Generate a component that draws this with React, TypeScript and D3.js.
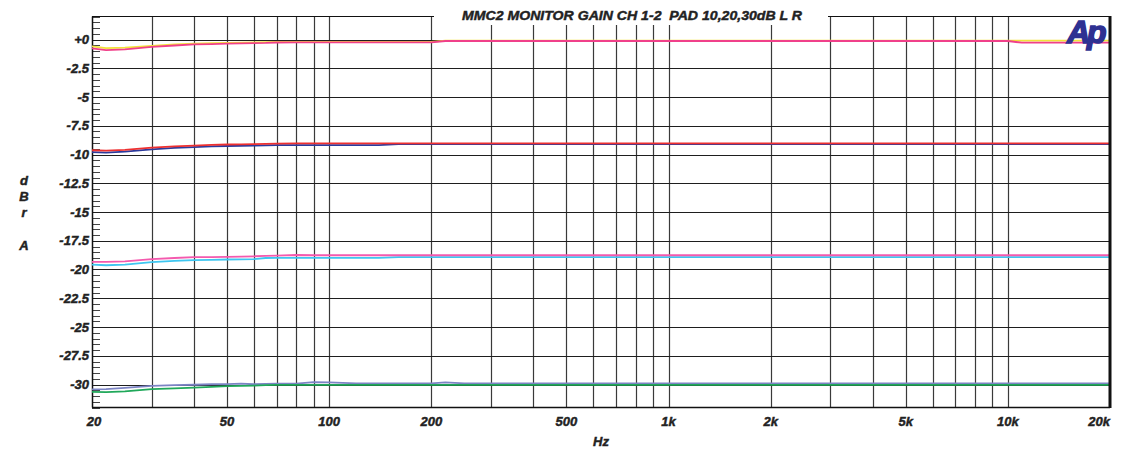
import React from "react";
import * as d3 from "d3";

// ---- Data ----
const FREQ = [20, 22, 25, 30, 35, 40, 45, 50, 55, 60, 65, 70, 80, 90, 100, 120, 140, 160, 180, 200, 220, 250, 300, 500, 1000, 2000, 5000, 10000, 11000, 12000, 15000, 20000];

// PAD 0 dB pair
const P0_L = [-0.6, -0.75, -0.7, -0.55, -0.42, -0.36, -0.32, -0.3, -0.27, -0.25, -0.22, -0.2, -0.2, -0.2, -0.2, -0.2, -0.2, -0.2, -0.2, -0.2, -0.1, -0.1, -0.1, -0.1, -0.1, -0.1, -0.1, -0.1, -0.1, -0.1, -0.1, -0.1];
const P0_R = [-0.78, -0.92, -0.85, -0.65, -0.52, -0.43, -0.4, -0.36, -0.34, -0.32, -0.3, -0.26, -0.25, -0.25, -0.25, -0.25, -0.25, -0.25, -0.25, -0.25, -0.13, -0.13, -0.13, -0.13, -0.13, -0.13, -0.13, -0.13, -0.28, -0.28, -0.28, -0.28];
// PAD 10 dB pair
const P10_L = [-9.63, -9.66, -9.6, -9.4, -9.3, -9.22, -9.17, -9.13, -9.12, -9.1, -9.08, -9.06, -9.04, -9.04, -9.04, -9.04, -9.04, -9.04, -9.04, -9.04, -9.04, -9.04, -9.04, -9.04, -9.04, -9.04, -9.04, -9.04, -9.04, -9.04, -9.04, -9.04];
const P10_R = [-9.8, -9.84, -9.75, -9.55, -9.43, -9.35, -9.3, -9.26, -9.24, -9.22, -9.2, -9.19, -9.19, -9.19, -9.19, -9.19, -9.18, -9.09, -9.09, -9.09, -9.09, -9.09, -9.09, -9.09, -9.09, -9.09, -9.09, -9.09, -9.09, -9.09, -9.09, -9.09];
// PAD 20 dB pair
const P20_L = [-19.34, -19.34, -19.3, -19.1, -19.0, -18.93, -18.92, -18.9, -18.88, -18.85, -18.82, -18.8, -18.74, -18.76, -18.76, -18.76, -18.76, -18.76, -18.76, -18.76, -18.76, -18.76, -18.76, -18.76, -18.76, -18.76, -18.76, -18.76, -18.76, -18.76, -18.76, -18.76];
const P20_R = [-19.57, -19.63, -19.58, -19.35, -19.25, -19.19, -19.16, -19.13, -19.12, -19.1, -19.0, -18.99, -18.99, -18.99, -18.99, -18.99, -18.99, -18.92, -18.92, -18.92, -18.92, -18.92, -18.92, -18.92, -18.92, -18.92, -18.92, -18.92, -18.92, -18.92, -18.92, -18.92];
// PAD 30 dB pair
const P30_L = [-30.43, -30.4, -30.3, -30.12, -30.06, -30.02, -29.98, -29.97, -29.93, -29.98, -29.95, -29.93, -29.92, -29.8, -29.82, -29.9, -29.9, -29.9, -29.9, -29.9, -29.82, -29.9, -29.9, -29.9, -29.9, -29.9, -29.9, -29.9, -29.9, -29.9, -29.9, -29.9];
const P30_R = [-30.64, -30.67, -30.6, -30.41, -30.33, -30.27, -30.2, -30.15, -30.12, -30.09, -30.06, -30.04, -30.03, -30.03, -30.03, -30.03, -30.03, -30.03, -30.03, -30.03, -30.03, -30.03, -30.03, -30.03, -30.03, -30.03, -30.03, -30.03, -30.03, -30.03, -30.03, -30.03];

const Y_TICKS = [0, -2.5, -5, -7.5, -10, -12.5, -15, -17.5, -20, -22.5, -25, -27.5, -30];
const Y_TICK_LABELS = ["+0", "-2.5", "-5", "-7.5", "-10", "-12.5", "-15", "-17.5", "-20", "-22.5", "-25", "-27.5", "-30"];
const X_LABEL_TICKS = [20, 50, 100, 200, 500, 1000, 2000, 5000, 10000, 20000];
const X_LABELS = ["20", "50", "100", "200", "500", "1k", "2k", "5k", "10k", "20k"];
const X_GRID = [30, 40, 50, 60, 70, 80, 90, 100, 200, 300, 400, 500, 600, 700, 800, 900, 1000, 2000, 3000, 4000, 5000, 6000, 7000, 8000, 9000, 10000];

const TITLE = "MMC2 MONITOR GAIN CH 1-2  PAD 10,20,30dB L R";
const Y_LABEL_LETTERS = ["d", "B", "r", "A"];

const SERIES = [
  { values: P0_L, color: "#f2e33a" },
  { values: P0_R, color: "#f0408a" },
  { values: P10_R, color: "#2b3a9c" },
  { values: P10_L, color: "#ee3030" },
  { values: P20_R, color: "#3ec6f0" },
  { values: P20_L, color: "#f45aae" },
  { values: P30_L, color: "#7c84c4" },
  { values: P30_R, color: "#20a85a" },
];

const W = 1135;
const H = 451;
const LEFT = 92;
const RIGHT = 1110;
const TOP = 16.5;
const BOTTOM = 407.5;
const FONT = "'Liberation Sans', Arial, Helvetica, sans-serif";

export default function App() {
  const x = d3.scaleLog().domain([20, 20000]).range([LEFT, RIGHT]);
  const y = d3.scaleLinear().domain([-32, 2]).range([BOTTOM, TOP]);
  const line = d3
    .line<number>()
    .x((_, i) => x(FREQ[i]))
    .y((v) => y(v));

  const minor = d3.range(-32, 2.001, 0.5).filter((v) => Math.abs((v / 2.5) - Math.round(v / 2.5)) > 1e-6);

  const textStyle = {
    fontFamily: FONT,
    fontWeight: 700,
    fontStyle: "italic" as const,
    fill: "#222",
    stroke: "#222",
    strokeWidth: 0.45,
  };

  return (
    <svg width={W} height={H} style={{ position: "absolute", left: 0, top: 0, background: "#fff" }}>
      <rect x={0} y={0} width={W} height={H} fill="#fff" />
      {/* vertical grid */}
      {X_GRID.map((f) => (
        <line key={"vg" + f} x1={Math.round(x(f)) + 0.5} x2={Math.round(x(f)) + 0.5} y1={TOP} y2={BOTTOM} stroke="#3a3a3a" strokeWidth={1.2} />
      ))}
      {/* horizontal grid */}
      {Y_TICKS.map((v) => (
        <line key={"hg" + v} x1={LEFT} x2={RIGHT} y1={Math.round(y(v)) + 0.5} y2={Math.round(y(v)) + 0.5} stroke="#1e1e1e" strokeWidth={1} />
      ))}
      {/* minor ticks on y axis */}
      {minor.map((v) => (
        <line key={"mt" + v} x1={LEFT} x2={LEFT + 8} y1={Math.round(y(v)) + 0.5} y2={Math.round(y(v)) + 0.5} stroke="#444" strokeWidth={1} />
      ))}
      {/* borders */}
      <line x1={LEFT} x2={RIGHT} y1={TOP} y2={TOP} stroke="#111" strokeWidth={1} />
      <line x1={LEFT} x2={RIGHT} y1={BOTTOM} y2={BOTTOM} stroke="#111" strokeWidth={1.5} />
      <line x1={LEFT + 0.5} x2={LEFT + 0.5} y1={TOP} y2={BOTTOM} stroke="#111" strokeWidth={1.5} />
      {/* series */}
      {SERIES.map((s, i) => (
        <path key={"s" + i} d={line(s.values) || ""} fill="none" stroke={s.color} strokeWidth={1.8} strokeLinejoin="round" />
      ))}
      <line x1={RIGHT} x2={RIGHT} y1={TOP - 0.5} y2={BOTTOM + 0.5} stroke="#111" strokeWidth={3} />
      {/* title box */}
      <rect x={434} y={0} width={394} height={25} fill="#fff" />
      <text x={632} y={20} textAnchor="middle" fontSize={13.5} textLength={340} lengthAdjust="spacingAndGlyphs" style={{ ...textStyle, whiteSpace: "pre" }}>
        {TITLE}
      </text>
      {/* y tick labels */}
      {Y_TICKS.map((v, i) => (
        <text key={"yl" + v} x={89} y={y(v) + 4.5} textAnchor="end" fontSize={13} style={textStyle}>
          {Y_TICK_LABELS[i]}
        </text>
      ))}
      {/* x tick labels */}
      {X_LABEL_TICKS.map((f, i) => {
        const last = i === X_LABEL_TICKS.length - 1;
        return (
          <text key={"xl" + f} x={last ? RIGHT : x(f) + (i === 0 ? 2 : 0)} y={426} textAnchor={last ? "end" : "middle"} fontSize={13} style={textStyle}>
            {X_LABELS[i]}
          </text>
        );
      })}
      {/* axis titles */}
      {Y_LABEL_LETTERS.map((c, i) => (
        <text key={"yt" + i} x={24} y={[185, 200.5, 216.5, 250][i]} textAnchor="middle" fontSize={13} style={textStyle}>
          {c}
        </text>
      ))}
      <text x={601} y={446} textAnchor="middle" fontSize={13} style={textStyle}>
        Hz
      </text>
      {/* Ap logo */}
      <text x={1067} y={42.5} fontSize={32} letterSpacing={-3} style={{ fontFamily: FONT, fontWeight: 700, fontStyle: "italic", fill: "#2e3192", stroke: "#2e3192", strokeWidth: 1.6 }}>
        Ap
      </text>
    </svg>
  );
}
